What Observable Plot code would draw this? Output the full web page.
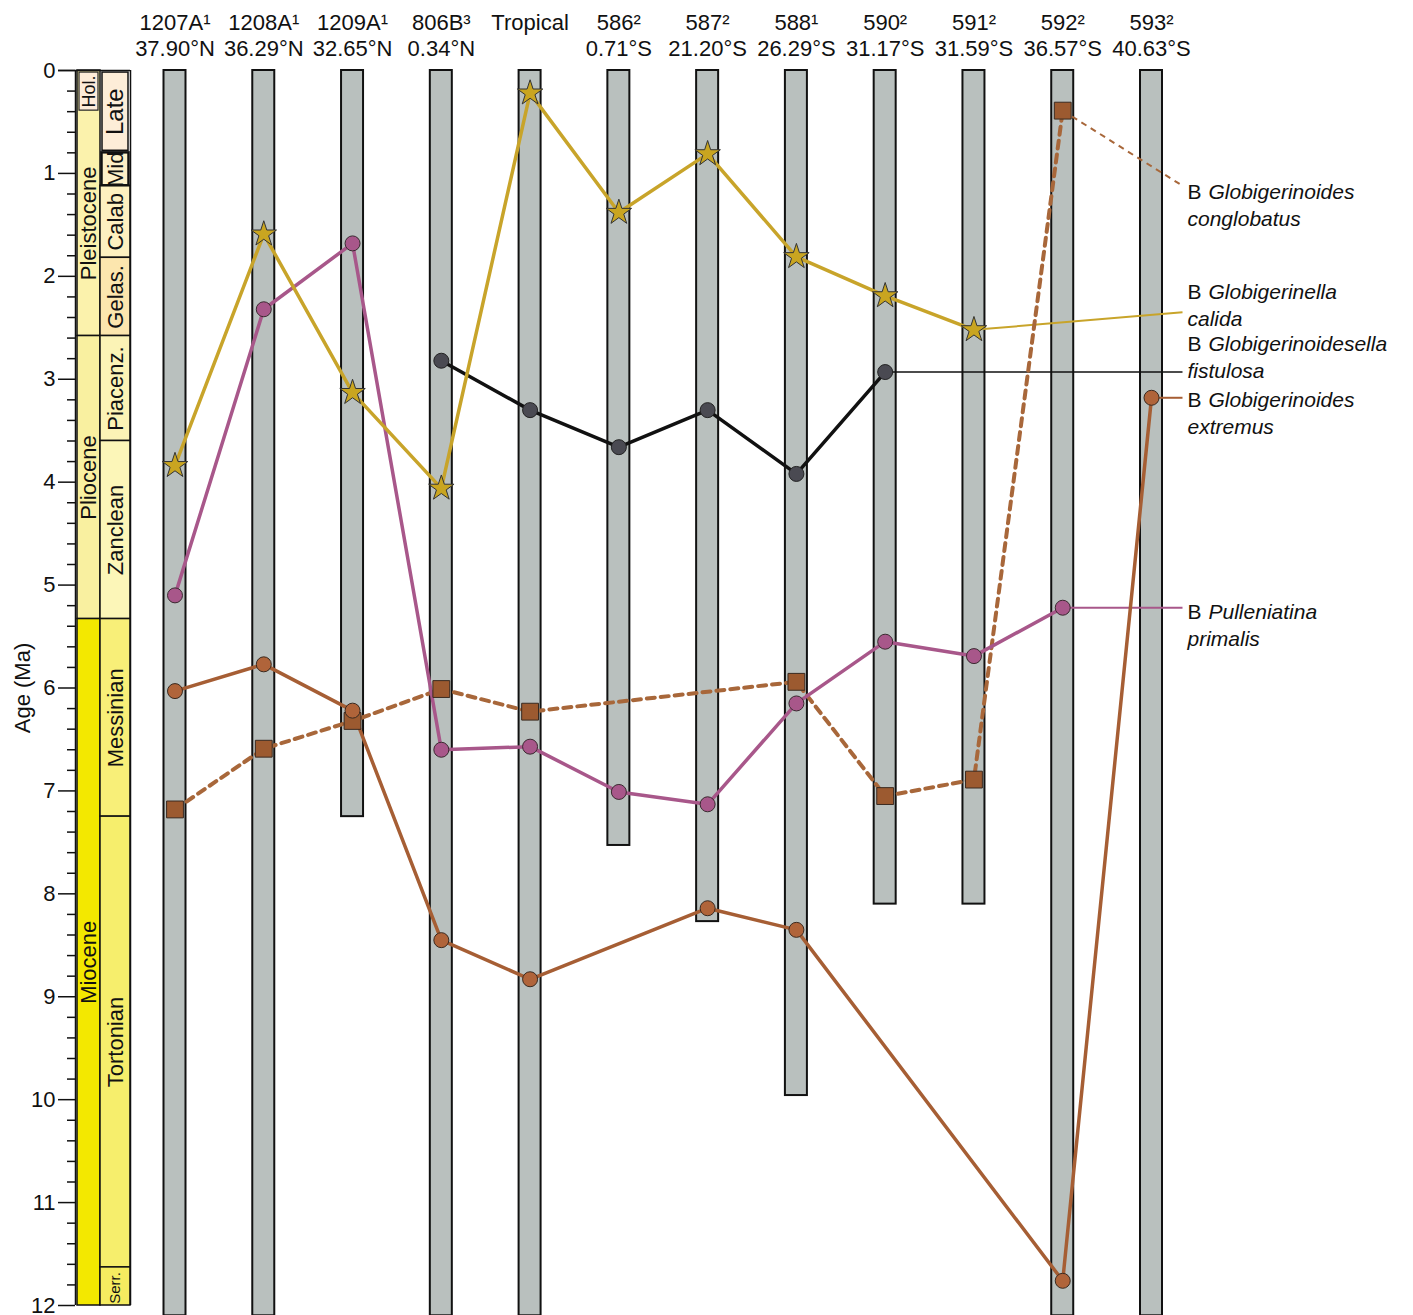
<!DOCTYPE html>
<html><head><meta charset="utf-8">
<script src="https://cdn.jsdelivr.net/npm/d3@7"></script>
<script src="https://cdn.jsdelivr.net/npm/@observablehq/plot@0.6"></script>
<style>body{margin:0;background:#fff}</style>
</head><body><div id="chart"></div>
<script>
// ---------- data ----------
const columns = ["1207A¹","1208A¹","1209A¹","806B³","Tropical","586²","587²","588¹","590²","591²","592²","593²"];
const latitudes = ["37.90°N","36.29°N","32.65°N","0.34°N","","0.71°S","21.20°S","26.29°S","31.17°S","31.59°S","36.57°S","40.63°S"];
const columnBase = [12.1,12.1,7.25,12.1,12.1,7.53,8.27,9.96,8.1,8.1,12.1,12.1];

const calida      = [3.84,1.59,3.13,4.06,0.22,1.38,0.81,1.81,2.19,2.52,null,null];
const primalis    = [5.10,2.32,1.68,6.60,6.57,7.01,7.13,6.15,5.55,5.69,5.22,null];
const fistulosa   = [null,null,null,2.82,3.30,3.66,3.30,3.92,2.93,null,null,null];
const extremus    = [6.03,5.77,6.22,8.45,8.83,null,8.14,8.35,null,null,11.76,3.18];
const conglobatus = [7.18,6.59,6.32,6.01,6.23,null,null,5.94,7.05,6.89,0.39,null];

const labelGenus   = ["Globigerinoides","Globigerinella","Globigerinoidesella","Globigerinoides","Pulleniatina"];
const labelSpecies = ["conglobatus","calida","fistulosa","extremus","primalis"];
const labelSeries  = [conglobatus, calida, fistulosa, extremus, primalis];
const labelFromCol = [10, 9, 8, 11, 10];
const leaderAge    = [1.12, 2.35, 2.93, 3.18, 5.22];
const labelAge     = [1.18, 2.15, 2.66, 3.20, 5.26];

const yTicks = [0,1,2,3,4,5,6,7,8,9,10,11,12];
const minorTicks = d3.range(0, 12.001, 0.2).map(v => +v.toFixed(1)).filter(v => !yTicks.includes(v));

const epochNames = ["Pleistocene","Pliocene","Miocene"];
const epochStart = [0, 2.58, 5.33];
const epochEnd   = [2.58, 5.33, 12];
const epochLabelStart = [0.39, 2.58, 5.33];
const holocene = {name: "Hol.", start: 0.02, end: 0.39};

const stageNames = ["Late","Mid","Calab","Gelas.","Piacenz.","Zanclean","Messinian","Tortonian","Serr."];
const stageStart = [0.02, 0.80, 1.12, 1.82, 2.58, 3.60, 5.33, 7.25, 11.63];
const stageEnd   = [0.78, 1.12, 1.82, 2.58, 3.60, 5.33, 7.25, 11.63, 12];

// ---------- styles ----------
const FONT = '"Liberation Sans", Arial, Helvetica, sans-serif';
const epochColor = {"Pleistocene":"#fbf2ac","Pliocene":"#f9f0a0","Miocene":"#f3e800","Hol.":"#fdecd8"};
const stageColor = {"Late":"#fdedd8","Mid":"#fdf0c8","Calab":"#fdf0c0","Gelas.":"#fce6ae","Piacenz.":"#fbf3b6",
  "Zanclean":"#fcf6b8","Messinian":"#f8ef78","Tortonian":"#f6ee6c","Serr.":"#f5ec60"};
const stageFont = {"Late":24,"Serr.":15};
const C = {calida:"#c8a42a", calidaFill:"#c9a520", pink:"#a8578a", black:"#111111", blackFill:"#4a4a52",
  brown:"#a65e34", brownFill:"#b0643a", cong:"#a8673a", congFill:"#9c5a30", bar:"#b9c0be"};

// ---------- layout helpers ----------
const W = 1413, H = 1315;
const colX0 = 174.5, colStep = (1151 - 174.5) / 11;
const u = p => (p - colX0) / colStep;   // pixel -> column units (layout only)
const barHalf = 11 / colStep;

const pts = arr => arr.map((v, i) => ({i, v})).filter(d => d.v != null);
const bars = columns.map((c, i) => ({i, base: columnBase[i]}));
const headers = columns.map((c, i) => ({i, name: c, lat: latitudes[i]}));
const epochs = epochNames.map((n, k) => ({name: n, start: epochStart[k], end: epochEnd[k], ls: epochLabelStart[k]}));
const stages = stageNames.map((n, k) => ({name: n, start: stageStart[k], end: stageEnd[k]}));
const labels = labelGenus.map((g, k) => ({genus: g, species: labelSpecies[k], from: labelFromCol[k],
  fromAge: labelSeries[k][labelFromCol[k]], leader: leaderAge[k], age: labelAge[k], key: labelSpecies[k]}));
const leaderColor = {conglobatus: C.cong, calida: C.calida, fistulosa: C.black, extremus: C.brown, primalis: C.pink};

const leaderEnd = u(1182), labelX = u(1187);
const solidLeaders = labels.filter(d => d.key !== "conglobatus");
const dashedLeaders = labels.filter(d => d.key === "conglobatus");

const marks = [
  // time scale columns
  Plot.rect(epochs, {x1: u(77), x2: u(100), y1: "start", y2: "end", fill: d => epochColor[d.name], stroke: "#111", strokeWidth: 1.5}),
  Plot.rect([holocene], {x1: u(79), x2: u(98), y1: "start", y2: "end", fill: d => epochColor[d.name], stroke: "#222", strokeWidth: 1.2}),
  Plot.rect(stages.filter(d => d.name !== "Mid"), {x1: d => d.name === "Late" ? u(102) : u(100), x2: d => d.name === "Late" ? u(128) : u(130),
    y1: "start", y2: "end", fill: d => stageColor[d.name], stroke: "#111", strokeWidth: 1.5}),
  Plot.rect(stages.filter(d => d.name === "Mid"), {x1: u(101.5), x2: u(128.5),
    y1: "start", y2: "end", fill: d => stageColor[d.name], stroke: "#111", strokeWidth: 2.5}),
  Plot.ruleX([u(130)], {y1: 0, y2: 12, stroke: "#111", strokeWidth: 1.5}),
  Plot.text(epochs, {x: u(88.5), y: d => (d.ls + d.end) / 2, text: "name", rotate: -90, fontSize: 22, fill: "#111"}),
  Plot.text([holocene], {x: u(88.5), y: d => (d.start + d.end) / 2, text: "name", rotate: -90, fontSize: 18, fill: "#111"}),
  Plot.text(stages, {x: u(115), y: d => d.name === "Serr." ? d.end - 0.17 : (d.start + d.end) / 2, text: "name", rotate: -90,
    fontSize: d => stageFont[d.name] ?? 22, fill: "#111"}),

  // y axis
  Plot.ruleX([u(75)], {y1: 0, y2: 12, stroke: "#111", strokeWidth: 1.5}),
  Plot.ruleY(yTicks, {x1: u(58), x2: u(75), stroke: "#111", strokeWidth: 1.5}),
  Plot.ruleY([0], {x1: u(58), x2: u(130), stroke: "#111", strokeWidth: 1.5}),
  Plot.ruleY(minorTicks, {x1: u(67), x2: u(75), stroke: "#111", strokeWidth: 1.5}),
  Plot.text(yTicks, {x: u(55), y: d => d, text: d => String(d), textAnchor: "end", fontSize: 22, fill: "#111"}),
  Plot.text(["Age (Ma)"], {x: u(22), y: d => 6.0, text: d => d, rotate: -90, fontSize: 22, fill: "#111"}),

  // core columns
  Plot.rect(bars, {x1: d => d.i - barHalf, x2: d => d.i + barHalf, y1: 0, y2: "base", fill: C.bar, stroke: "#111", strokeWidth: 2}),

  // headers
  Plot.text(headers, {x: "i", text: "name", frameAnchor: "top", dy: -56, fontSize: 22, fill: "#111"}),
  Plot.text(headers, {x: "i", text: "lat", frameAnchor: "top", dy: -30, fontSize: 22, fill: "#111"}),

  // leader lines
  Plot.link(solidLeaders, {x1: "from", y1: "fromAge", x2: leaderEnd, y2: "leader", stroke: d => leaderColor[d.key],
    strokeWidth: d => d.key === "fistulosa" ? 1.6 : 2}),
  Plot.link(dashedLeaders, {x1: "from", y1: "fromAge", x2: leaderEnd, y2: "leader", stroke: C.cong,
    strokeWidth: 2, strokeDasharray: "6,5"}),

  // series lines
  Plot.line(pts(conglobatus), {x: "i", y: "v", stroke: C.cong, strokeWidth: 4, strokeDasharray: "8,6"}),
  Plot.line(pts(extremus), {x: "i", y: "v", stroke: C.brown, strokeWidth: 3.5}),
  Plot.line(pts(fistulosa), {x: "i", y: "v", stroke: C.black, strokeWidth: 3.5}),
  Plot.line(pts(primalis), {x: "i", y: "v", stroke: C.pink, strokeWidth: 3.5}),
  Plot.line(pts(calida), {x: "i", y: "v", stroke: C.calida, strokeWidth: 3.5}),

  // markers
  Plot.dot(pts(conglobatus), {x: "i", y: "v", symbol: "square", r: 9.5, fill: C.congFill, stroke: "#3a2a20", strokeWidth: 1}),
  Plot.dot(pts(extremus), {x: "i", y: "v", r: 7.5, fill: C.brownFill, stroke: "#3a2a20", strokeWidth: 1}),
  Plot.dot(pts(fistulosa), {x: "i", y: "v", r: 7.5, fill: C.blackFill, stroke: "#222", strokeWidth: 1}),
  Plot.dot(pts(primalis), {x: "i", y: "v", r: 7.5, fill: C.pink, stroke: "#3a2a30", strokeWidth: 1}),
  Plot.dot(pts(calida), {x: "i", y: "v", symbol: "star", r: 8, fill: C.calidaFill, stroke: "#333", strokeWidth: 1}),

  // labels
  Plot.text(labels, {x: labelX, y: "age", text: d => "B", textAnchor: "start", fontSize: 21, fill: "#111"}),
  Plot.text(labels, {x: labelX, y: "age", text: "genus", dx: 21, textAnchor: "start", fontSize: 21, fontStyle: "italic", fill: "#111"}),
  Plot.text(labels, {x: labelX, y: "age", text: "species", dy: 27, textAnchor: "start", fontSize: 21, fontStyle: "italic", fill: "#111"}),
];

const chart = Plot.plot({
  width: W, height: H,
  marginTop: 70, marginBottom: 10, marginLeft: 0, marginRight: 0,
  x: {domain: [u(0), u(W)], range: [0, W], axis: null},
  y: {domain: [0, 12], range: [70, 1305], axis: null},
  style: {fontFamily: FONT, background: "#fff", overflow: "visible"},
  marks
});
document.getElementById("chart").appendChild(chart);
</script>
</body></html>
